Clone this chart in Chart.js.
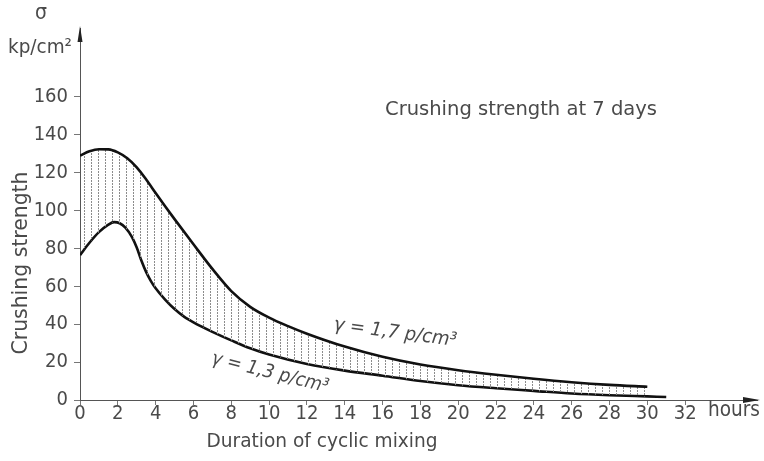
<!DOCTYPE html>
<html>
<head>
<meta charset="utf-8">
<script src="https://cdn.jsdelivr.net/npm/chart.js@4.4.0/dist/chart.umd.min.js"></script>
<style>
  html, body { margin: 0; padding: 0; background: #fff; }
  #wrap { width: 764px; height: 461px; }
</style>
</head>
<body>
<div id="wrap"><canvas id="c" width="764" height="461"></canvas></div>
<script>
// Crushing strength (kp/cm²) against duration of cyclic mixing (hours)
const upperHours  = [0, 0.5, 1, 1.5, 2, 2.5, 3, 3.5, 4, 4.5, 5, 6, 7, 8, 9, 10, 11, 12, 14, 16, 18, 20, 22, 24, 26, 28, 30];
const upperValues = [129, 131.3, 132.4, 132.3, 130.7, 127.6, 122.8, 116.4, 109.3, 102.3, 95.5, 82.2, 69.2, 57.5, 49.2, 43.5, 39, 35, 28.2, 22.8, 18.7, 15.7, 13.3, 11.2, 9.4, 8, 7];

const lowerHours  = [0, 0.5, 1, 1.5, 1.8, 2.1, 2.4, 2.75, 3, 3.25, 3.5, 3.75, 4, 4.5, 5, 5.5, 6, 7, 8, 9, 10, 12, 14, 16, 18, 20, 22, 24, 26, 28, 30, 31];
const lowerValues = [76.5, 83, 88.6, 92.6, 93.9, 93.3, 91, 86, 80.5, 73.5, 67.5, 62.8, 59, 53, 48, 44, 41, 36, 31.5, 27.3, 24, 19, 15.5, 12.8, 10, 7.8, 6.2, 4.8, 3.4, 2.5, 1.9, 1.6];

const xTickValues = [0, 2, 4, 6, 8, 10, 12, 14, 16, 18, 20, 22, 24, 26, 28, 30, 32];
const yTickValues = [0, 20, 40, 60, 80, 100, 120, 140, 160];

const upperLabel = 'γ = 1,7 p/cm³';
const lowerLabel = 'γ = 1,3 p/cm³';

const FONT = "'Liberation Sans Narrow', 'DejaVu Sans Condensed', 'Liberation Sans', sans-serif";
const INK = '#4a4a4a';

// vertical dotted hatching for the band between the two curves
function hatchPattern() {
  const p = document.createElement('canvas');
  p.width = 7; p.height = 3;
  const g = p.getContext('2d');
  g.fillStyle = '#8c8c8c';
  g.fillRect(0, 0, 1, 2);
  return document.getElementById('c').getContext('2d').createPattern(p, 'repeat');
}

function toPoints(xs, ys) { return xs.map((x, i) => ({ x: x, y: ys[i] })); }

// draws text centred at (x, y), stretched horizontally to the given width
function fitText(ctx, text, x, y, width, size, angle, italic) {
  ctx.save();
  ctx.translate(x, y);
  ctx.rotate(angle || 0);
  ctx.font = (italic ? 'italic ' : '') + size + 'px ' + FONT;
  ctx.textBaseline = 'middle';
  ctx.textAlign = 'left';
  const w = ctx.measureText(text).width;
  if (width) ctx.scale(width / w, 1);
  ctx.fillStyle = INK;
  ctx.fillText(text, -w / 2, 0);
  ctx.restore();
}

const decorations = {
  id: 'decorations',
  afterDraw(chart) {
    const ctx = chart.ctx;
    const xs = chart.scales.x, ys = chart.scales.y;
    const x0 = xs.left, y0 = ys.bottom;

    // arrowheads on the axes
    ctx.save();
    ctx.fillStyle = '#222';
    ctx.beginPath();
    ctx.moveTo(xs.right + 3, y0);
    ctx.lineTo(xs.right - 14, y0 - 3);
    ctx.lineTo(xs.right - 14, y0 + 3);
    ctx.closePath();
    ctx.fill();
    ctx.beginPath();
    ctx.moveTo(x0, ys.top - 2);
    ctx.lineTo(x0 - 2.5, ys.top + 14);
    ctx.lineTo(x0 + 2.5, ys.top + 14);
    ctx.closePath();
    ctx.fill();
    ctx.restore();

    // axis titles and annotations
    fitText(ctx, 'σ', 41, 14, 0, 21);
    fitText(ctx, 'kp/cm²', 40, 48, 64, 20);
    fitText(ctx, 'Crushing strength', 22, 263, 183, 21, -Math.PI / 2);
    fitText(ctx, 'Duration of cyclic mixing', 322, 442, 231, 20);
    fitText(ctx, 'hours', 734, 411, 52, 21);
    fitText(ctx, 'Crushing strength at 7 days', 521, 110, 272, 19);
    fitText(ctx, upperLabel, 395, 333, 124, 19, 7.5 * Math.PI / 180, true);
    fitText(ctx, lowerLabel, 270, 373, 120, 19, 14 * Math.PI / 180, true);
  }
};

new Chart(document.getElementById('c'), {
  type: 'line',
  data: {
    datasets: [
      {
        label: upperLabel,
        data: toPoints(upperHours, upperValues),
        borderColor: '#111',
        borderWidth: 2.6,
        pointRadius: 0,
        cubicInterpolationMode: 'monotone',
        fill: '+1',
        backgroundColor: hatchPattern()
      },
      {
        label: lowerLabel,
        data: toPoints(lowerHours, lowerValues),
        borderColor: '#111',
        borderWidth: 2.6,
        pointRadius: 0,
        cubicInterpolationMode: 'monotone',
        fill: false
      }
    ]
  },
  options: {
    responsive: false,
    animation: false,
    devicePixelRatio: 1,
    layout: { padding: { top: 28, right: 7, left: 0, bottom: 0 } },
    plugins: { legend: { display: false }, tooltip: { enabled: false } },
    scales: {
      x: {
        type: 'linear',
        min: 0,
        max: 35.8,
        afterBuildTicks: s => { s.ticks = xTickValues.map(v => ({ value: v })); },
        afterFit: s => { s.height = 61; },
        ticks: { color: INK, font: { family: FONT, size: 20 }, padding: -3, maxRotation: 0, autoSkip: false },
        grid: { drawOnChartArea: false, drawTicks: true, tickLength: 5, color: '#777' },
        border: { display: true, color: '#555', width: 1 }
      },
      y: {
        type: 'linear',
        min: 0,
        max: 196.4,
        afterBuildTicks: s => { s.ticks = yTickValues.map(v => ({ value: v })); },
        afterFit: s => { s.width = 80; },
        ticks: { color: INK, font: { family: FONT, size: 20 }, padding: 6, autoSkip: false },
        grid: { drawOnChartArea: false, drawTicks: true, tickLength: 6, color: '#777' },
        border: { display: true, color: '#555', width: 1 }
      }
    }
  },
  plugins: [decorations]
});
</script>
</body>
</html>
